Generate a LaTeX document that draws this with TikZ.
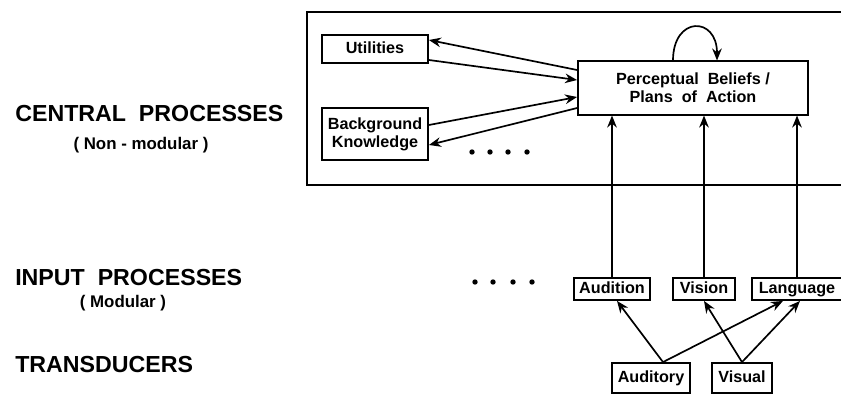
\documentclass[tikz,border=0pt]{standalone}
\usepackage{fontspec}
\setmainfont{Liberation Sans}
\usetikzlibrary{arrows.meta}
\begin{document}
\begin{tikzpicture}[
    x=0.025cm, y=-0.025cm,
    box/.style={rectangle, draw, line width=1.3pt, inner sep=0pt, align=center, font=\fontsize{11.5}{13}\selectfont\bfseries},
    onebox/.style={box, text height=1.6ex, text depth=0.45ex},
    level/.style={anchor=west, inner sep=0pt, font=\fontsize{16.5}{18}\selectfont\bfseries},
    note/.style={inner sep=0pt, font=\fontsize{12}{14}\selectfont\bfseries},
    arrow/.style={-{Stealth[length=3mm, width=2.4mm]}, line width=1.2pt},
]
\useasboundingbox (0,0) rectangle (841,394);

\node[level] (central) at (15,114) {CENTRAL\ \ PROCESSES};
\node[note] (nonmod) at (141,145) {( Non - modular )};
\node[level] (input) at (15,278) {INPUT\ \ PROCESSES};
\node[note] (mod) at (123,303) {( Modular )};
\node[level] (trans) at (15,365) {TRANSDUCERS};

\draw[line width=1.3pt] (307,12) rectangle (860,185);

\node[onebox, minimum width=2.65cm, minimum height=0.7cm] (util) at (375,49) {Utilities};
\node[box, minimum width=2.65cm, minimum height=1.3cm] (bg) at (375,134) {Background\\Knowledge};
\node[box, minimum width=5.75cm, minimum height=1.33cm] (perc) at (693,88) {Perceptual\ \ Beliefs /\\Plans\ \ of\ \ Action};

\node[onebox, minimum width=1.88cm, minimum height=0.55cm] (audition) at (612,289) {Audition};
\node[onebox, minimum width=1.55cm, minimum height=0.55cm] (vision) at (704,289) {Vision};
\node[onebox, minimum width=2.25cm, minimum height=0.55cm] (language) at (797,289) {Language};

\node[onebox, minimum width=1.93cm, minimum height=0.75cm] (auditory) at (651,378) {Auditory};
\node[onebox, minimum width=1.48cm, minimum height=0.75cm] (visual) at (742,378) {Visual};

\foreach \x in {472,490,508,527} \fill (\x,152) circle (2.7);
\foreach \x in {475,493,513,532} \fill (\x,282) circle (2.7);

\draw[arrow] ([yshift=0.45cm]perc.west) -- ([yshift=0.225cm]util.east);
\draw[arrow] ([yshift=-0.275cm]util.east) -- ([yshift=0.2cm]perc.west);
\draw[arrow] ([yshift=0.225cm]bg.east) -- ([yshift=-0.225cm]perc.west);
\draw[arrow] ([yshift=-0.5cm]perc.west) -- ([yshift=-0.275cm]bg.east);
\draw[arrow] ([xshift=-0.5cm]perc.north) to[out=90, in=90, looseness=2.6] ([xshift=0.6cm]perc.north);

\draw[arrow] (audition.north) -- (audition.north |- perc.south);
\draw[arrow] (vision.north) -- (vision.north |- perc.south);
\draw[arrow] (language.north) -- (language.north |- perc.south);

\draw[arrow] ([xshift=0.3cm]auditory.north) -- ([xshift=0.125cm]audition.south);
\draw[arrow] ([xshift=0.3cm]auditory.north) -- ([xshift=-0.35cm]language.south);
\draw[arrow] (visual.north) -- (vision.south);
\draw[arrow] (visual.north) -- ([xshift=0.075cm]language.south);
\end{tikzpicture}
\end{document}
